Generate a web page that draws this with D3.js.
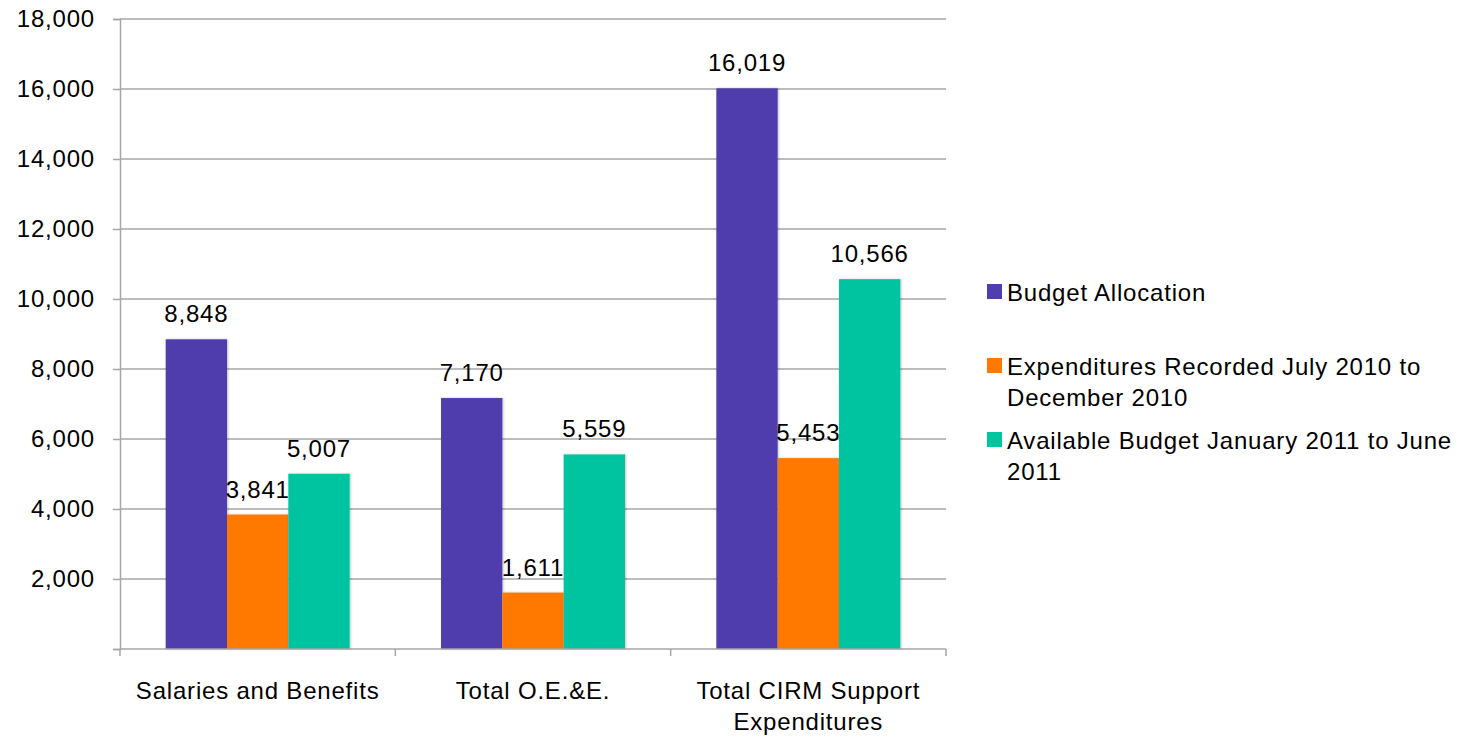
<!DOCTYPE html>
<html>
<head>
<meta charset="utf-8">
<script src="https://cdn.jsdelivr.net/npm/d3@7"></script>
<style>
  body { margin: 0; background: #fff; }
  text { font-family: "Liberation Sans", Arial, sans-serif; fill: #000; letter-spacing: 0.8px; }
</style>
</head>
<body>
<svg id="chart" width="1472" height="737"></svg>
<script>
// data
var categories = [["Salaries and Benefits"], ["Total O.E.&E."], ["Total CIRM Support", "Expenditures"]];
var seriesNames = ["Budget Allocation", "Expenditures Recorded July 2010 to December 2010", "Available Budget January 2011 to June 2011"];
var legendLines = [["Budget Allocation"], ["Expenditures Recorded July 2010 to", "December 2010"], ["Available Budget January 2011 to June", "2011"]];
var budgetAllocation = [8848, 7170, 16019];
var expenditures = [3841, 1611, 5453];
var available = [5007, 5559, 10566];
var yTicks = [2000, 4000, 6000, 8000, 10000, 12000, 14000, 16000, 18000];
var colors = ["#4f3eae", "#ff7800", "#02c49f"];

var series = [budgetAllocation, expenditures, available];

var svg = d3.select("#chart");
var plotLeft = 120, plotRight = 946, plotTop = 19, plotBottom = 649;
var fontSize = "24px";

var x0 = d3.scaleBand().domain(d3.range(categories.length)).range([plotLeft, plotRight]).paddingInner(0).paddingOuter(0);
var x1 = d3.scaleBand().domain(d3.range(series.length)).range([0, x0.bandwidth()]).paddingOuter(0.745).paddingInner(0);
var y = d3.scaleLinear().domain([0, 18000]).range([plotBottom, plotTop]);

// gridlines
svg.append("g").selectAll("line").data(yTicks).enter().append("line")
  .attr("x1", plotLeft).attr("x2", plotRight)
  .attr("y1", function (d) { return y(d) }).attr("y2", function (d) { return y(d) })
  .attr("stroke", "#a6a6a6").attr("stroke-width", 1.5);

// y axis
var yAxis = d3.axisLeft(y).tickValues([0].concat(yTicks)).tickSize(7).tickPadding(18)
  .tickFormat(function (d) { return d === 0 ? "" : d3.format(",")(d) });
var gy = svg.append("g").attr("transform", "translate(" + plotLeft + ",0)").call(yAxis);
gy.select(".domain").attr("stroke", "#a6a6a6").attr("stroke-width", 1.5);
gy.selectAll(".tick line").attr("stroke", "#a6a6a6").attr("stroke-width", 1.5);
gy.selectAll(".tick text").style("font-size", fontSize).attr("fill", "#000")
  .style("font-family", "Liberation Sans, Arial, sans-serif");

// bars
var defs = svg.append("defs");
var f = defs.append("filter").attr("id", "sh").attr("x", "-10%").attr("y", "-10%").attr("width", "130%").attr("height", "130%");
f.append("feDropShadow").attr("dx", 1).attr("dy", 0).attr("stdDeviation", 1.2).attr("flood-color", "#000").attr("flood-opacity", 0.25);

series.forEach(function (vals, si) {
  var g = svg.append("g");
  g.selectAll("rect").data(vals).enter().append("rect")
    .attr("x", function (d, i) { return x0(i) + x1(si) })
    .attr("y", function (d) { return y(d) })
    .attr("width", x1.bandwidth())
    .attr("height", function (d) { return y(0) - y(d) })
    .attr("fill", colors[si])
    .attr("filter", "url(#sh)");
  g.selectAll("text").data(vals).enter().append("text")
    .attr("x", function (d, i) { return x0(i) + x1(si) + x1.bandwidth() / 2 })
    .attr("y", function (d) { return y(d) - 17 })
    .attr("text-anchor", "middle")
    .style("font-size", fontSize)
    .text(function (d) { return d3.format(",")(d) });
});

// x axis
var xAxisLine = svg.append("g");
xAxisLine.append("line").attr("x1", plotLeft).attr("x2", plotRight).attr("y1", plotBottom).attr("y2", plotBottom)
  .attr("stroke", "#a6a6a6").attr("stroke-width", 1.5);
xAxisLine.selectAll("line.t").data(d3.range(categories.length + 1)).enter().append("line")
  .attr("class", "t")
  .attr("x1", function (d) { return plotLeft + d * x0.bandwidth() })
  .attr("x2", function (d) { return plotLeft + d * x0.bandwidth() })
  .attr("y1", plotBottom).attr("y2", plotBottom + 7)
  .attr("stroke", "#a6a6a6").attr("stroke-width", 1.5);

var cat = svg.append("g").selectAll("text").data(categories).enter().append("text")
  .attr("text-anchor", "middle")
  .style("font-size", fontSize);
cat.each(function (lines, i) {
  var t = d3.select(this);
  lines.forEach(function (l, k) {
    t.append("tspan").attr("x", x0(i) + x0.bandwidth() / 2).attr("y", 699 + k * 31).text(l);
  });
});

// legend
var legendY = [292, 366, 440];
var leg = svg.append("g");
legendLines.forEach(function (lines, i) {
  leg.append("rect").attr("x", 987).attr("y", legendY[i] - 8).attr("width", 15).attr("height", 15).attr("fill", colors[i]);
  var t = leg.append("text").style("font-size", fontSize);
  lines.forEach(function (l, k) {
    t.append("tspan").attr("x", 1007).attr("y", legendY[i] + 9 + k * 31).text(l);
  });
});
</script>
</body>
</html>
